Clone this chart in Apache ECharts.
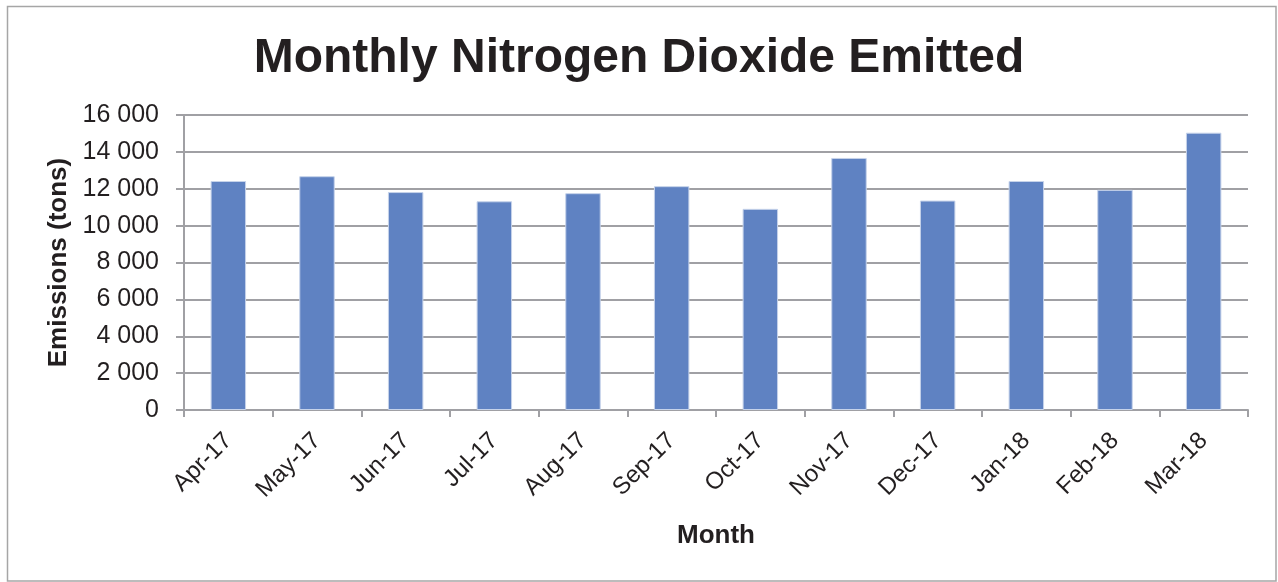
<!DOCTYPE html>
<html>
<head>
<meta charset="utf-8">
<script src="https://cdn.jsdelivr.net/npm/echarts@6/dist/echarts.min.js"></script>
<style>
  html, body { margin: 0; padding: 0; background: #fff; }
  #chart-container { width: 1278px; height: 582px; }
</style>
</head>
<body>
<div id="chart-container"></div>
<script>
// data
const months = ['Apr-17', 'May-17', 'Jun-17', 'Jul-17', 'Aug-17', 'Sep-17',
                'Oct-17', 'Nov-17', 'Dec-17', 'Jan-18', 'Feb-18', 'Mar-18'];
const emissions = [12420, 12680, 11820, 11320, 11760, 12140,
                   10910, 13670, 11360, 12420, 11940, 15040];
const yTicks = [0, 2000, 4000, 6000, 8000, 10000, 12000, 14000, 16000];

const textColor = '#231f20';
const gridColor = '#a0a0a4';
const fontFamily = 'Liberation Sans, Arial, sans-serif';

const fmt = (v) => String(v).replace(/\B(?=(\d{3})+(?!\d))/g, ' ');

const chart = echarts.init(document.getElementById('chart-container'));
chart.setOption({
    animation: false,
    textStyle: { fontFamily: fontFamily, color: textColor },
    title: {
        text: 'Monthly Nitrogen Dioxide Emitted',
        left: 'center',
        top: 30,
        textStyle: { fontSize: 48, fontWeight: 'bold', color: textColor, fontFamily: fontFamily }
    },
    graphic: [{
        type: 'rect',
        shape: { x: 7.5, y: 6.5, width: 1268.5, height: 574.5 },
        style: { fill: 'none', stroke: '#a6a6a6', lineWidth: 1.5 },
        silent: true
    }],
    grid: { left: 184, right: 30, top: 115, bottom: 172 },
    xAxis: {
        type: 'category',
        data: months,
        name: 'Month',
        nameLocation: 'middle',
        nameGap: 113,
        nameTextStyle: { fontSize: 26, fontWeight: 'bold', color: textColor },
        axisLine: { lineStyle: { color: gridColor, width: 2 } },
        axisTick: { show: true, alignWithLabel: false, length: 7, lineStyle: { color: gridColor, width: 2 } },
        axisLabel: { rotate: 45, fontSize: 24, color: textColor, margin: 27 }
    },
    yAxis: {
        type: 'value',
        min: yTicks[0],
        max: yTicks[yTicks.length - 1],
        interval: 2000,
        name: 'Emissions (tons)',
        nameLocation: 'middle',
        nameGap: 111,
        nameRotate: 90,
        nameTextStyle: { fontSize: 26, fontWeight: 'bold', color: textColor },
        axisLine: { show: true, lineStyle: { color: gridColor, width: 2 } },
        axisTick: { show: true, length: 8, lineStyle: { color: gridColor, width: 2 } },
        axisLabel: { fontSize: 25, color: textColor, margin: 25, formatter: fmt },
        splitLine: { lineStyle: { color: gridColor, width: 2 } }
    },
    series: [{
        type: 'bar',
        data: emissions,
        barWidth: '40%',
        itemStyle: { color: '#5f82c2', borderColor: '#c6d3ea', borderWidth: 1 }
    }]
});
</script>
</body>
</html>
